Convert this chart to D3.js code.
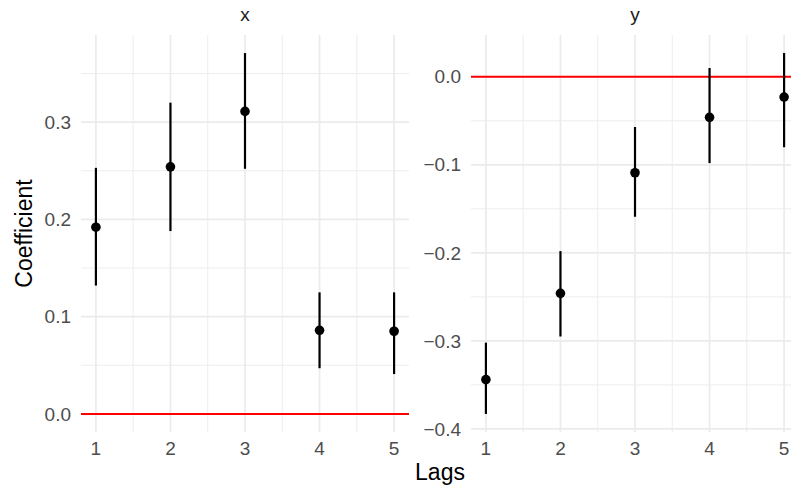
<!DOCTYPE html>
<html>
<head>
<meta charset="utf-8">
<script src="https://cdn.jsdelivr.net/npm/d3@7"></script>
<style>
  body { margin: 0; background: #fff; }
  svg text { font-family: Helvetica, "Liberation Sans", Arial, sans-serif; }
</style>
</head>
<body>
<svg id="chart" width="791" height="491"></svg>
<script>
// lag coefficients with interval bounds, one set per facet
const lags = [1, 2, 3, 4, 5];
const facets = ['x', 'y'];

const xCoef = [0.192, 0.254, 0.311, 0.086, 0.085];
const xLower = [0.132, 0.188, 0.252, 0.047, 0.041];
const xUpper = [0.253, 0.320, 0.371, 0.125, 0.125];

const yCoef = [-0.344, -0.246, -0.109, -0.046, -0.023];
const yLower = [-0.383, -0.295, -0.159, -0.098, -0.080];
const yUpper = [-0.302, -0.198, -0.057, 0.010, 0.027];

const xTicks = [1, 2, 3, 4, 5];
const xMinor = [1.5, 2.5, 3.5, 4.5];
const yTicksX = [0, 0.1, 0.2, 0.3];
const yTicksY = [-0.4, -0.3, -0.2, -0.1, 0];

const svg = d3.select('#chart');
const panelTop = 35, panelBottom = 432;
const panels = [
    { name: facets[0], left: 81, right: 409, coef: xCoef, lo: xLower, hi: xUpper, ticks: yTicksX },
    { name: facets[1], left: 471, right: 799, coef: yCoef, lo: yLower, hi: yUpper, ticks: yTicksY }
];

const fmt = d3.format('.1f');

function expand(ext, f) {
    const pad = (ext[1] - ext[0]) * f;
    return [ext[0] - pad, ext[1] + pad];
}

function drawPanel(p) {
    const x = d3.scaleLinear().domain(expand([1, 5], 0.05)).range([p.left, p.right]);
    const yExt = d3.extent(p.lo.concat(p.hi, [0]));
    const y = d3.scaleLinear().domain(expand(yExt, 0.05)).range([panelBottom, panelTop]);
    const [d0, d1] = y.domain();

    const minorY = [];
    for (let i = 0; i < p.ticks.length + 1; i++) {
        const v = p.ticks[0] + (i - 0.5) * 0.1;
        if (v >= d0 && v <= d1) minorY.push(v);
    }

    const g = svg.append('g');

    // minor grid
    g.selectAll('.vmin').data(xMinor).join('line')
        .attr('x1', d => x(d)).attr('x2', d => x(d))
        .attr('y1', panelTop).attr('y2', panelBottom)
        .attr('stroke', '#ededed').attr('stroke-width', 1);
    g.selectAll('.hmin').data(minorY).join('line')
        .attr('x1', p.left).attr('x2', p.right)
        .attr('y1', d => y(d)).attr('y2', d => y(d))
        .attr('stroke', '#ededed').attr('stroke-width', 1);

    // major grid
    g.selectAll('.vmaj').data(xTicks).join('line')
        .attr('x1', d => x(d)).attr('x2', d => x(d))
        .attr('y1', panelTop).attr('y2', panelBottom)
        .attr('stroke', '#ebebeb').attr('stroke-width', 1.7);
    g.selectAll('.hmaj').data(p.ticks).join('line')
        .attr('x1', p.left).attr('x2', p.right)
        .attr('y1', d => y(d)).attr('y2', d => y(d))
        .attr('stroke', '#ebebeb').attr('stroke-width', 1.7);

    // zero reference
    g.append('line')
        .attr('x1', p.left).attr('x2', p.right)
        .attr('y1', y(0)).attr('y2', y(0))
        .attr('stroke', '#ff0000').attr('stroke-width', 2);

    // intervals and points
    g.selectAll('.bar').data(lags).join('line')
        .attr('x1', d => x(d)).attr('x2', d => x(d))
        .attr('y1', (d, i) => y(p.lo[i])).attr('y2', (d, i) => y(p.hi[i]))
        .attr('stroke', '#000').attr('stroke-width', 2.2);
    g.selectAll('.pt').data(lags).join('circle')
        .attr('cx', d => x(d)).attr('cy', (d, i) => y(p.coef[i]))
        .attr('r', 4.8).attr('fill', '#000');

    // tick labels
    g.selectAll('.xl').data(xTicks).join('text')
        .attr('x', d => x(d)).attr('y', 455)
        .attr('text-anchor', 'middle')
        .attr('fill', '#4d4d4d').style('font-size', '19px')
        .text(d => d);
    g.selectAll('.yl').data(p.ticks).join('text')
        .attr('x', p.left - 10).attr('y', d => y(d))
        .attr('dy', '0.35em')
        .attr('text-anchor', 'end')
        .attr('fill', '#4d4d4d').style('font-size', '19px')
        .text(d => fmt(d));

    // strip
    g.append('text')
        .attr('x', (p.left + p.right) / 2).attr('y', 21)
        .attr('text-anchor', 'middle')
        .attr('fill', '#1a1a1a').style('font-size', '19px')
        .text(p.name);
}

panels.forEach(drawPanel);

svg.append('text')
    .attr('x', (panels[0].left + panels[1].right) / 2).attr('y', 480)
    .attr('text-anchor', 'middle')
    .attr('fill', '#000').style('font-size', '23px')
    .text('Lags');

svg.append('text')
    .attr('transform', 'translate(32,' + (panelTop + panelBottom) / 2 + ') rotate(-90)')
    .attr('text-anchor', 'middle')
    .attr('fill', '#000').style('font-size', '23px')
    .text('Coefficient');
</script>
</body>
</html>
